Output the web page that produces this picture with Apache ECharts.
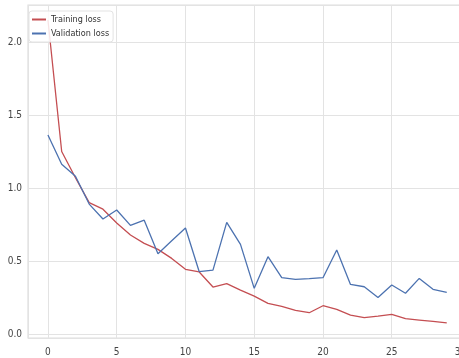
<!DOCTYPE html>
<html>
<head>
<meta charset="utf-8">
<script src="https://cdn.jsdelivr.net/npm/echarts@6/dist/echarts.min.js"></script>
<style>
html,body{margin:0;padding:0;background:#fff;}
#chart{width:459px;height:358px;}
</style>
</head>
<body>
<div id="chart"></div>
<script>
var epochs = [0,1,2,3,4,5,6,7,8,9,10,11,12,13,14,15,16,17,18,19,20,21,22,23,24,25,26,27,28,29];
var trainingLoss = [2.15,1.25,1.07,0.90,0.855,0.76,0.678,0.621,0.58,0.518,0.443,0.425,0.322,0.345,0.301,0.26,0.21,0.19,0.162,0.146,0.194,0.169,0.13,0.112,0.123,0.135,0.105,0.096,0.087,0.077];
var validationLoss = [1.363,1.162,1.08,0.89,0.788,0.849,0.744,0.78,0.55,0.639,0.726,0.427,0.438,0.765,0.614,0.313,0.53,0.386,0.375,0.379,0.386,0.575,0.34,0.324,0.251,0.336,0.279,0.381,0.306,0.286];
var seriesNames = ['Training loss','Validation loss'];

var FONT = "'Liberation Sans Narrow','DejaVu Sans Condensed','Liberation Sans',sans-serif";
function pairs(vals){ return epochs.map(function(e,i){ return [e, vals[i]]; }); }
function fmt(step, digits){
  return function(v){
    var r = Math.round(v/step)*step;
    if (Math.abs(r - v) > 1e-6) return '';
    return digits ? r.toFixed(digits) : String(r);
  };
}

var chart = echarts.init(document.getElementById('chart'), null, {renderer:'canvas'});
chart.setOption({
  animation:false,
  backgroundColor:'#ffffff',
  grid:{left:28, top:5, width:438.7, height:333, containLabel:false, outerBoundsMode:'none',
        show:true, borderColor:'#dedede', borderWidth:1.2, backgroundColor:'#ffffff'},
  legend:{
    data:seriesNames, orient:'vertical', left:29, top:11, itemGap:5,
    itemWidth:14, itemHeight:2, icon:'rect',
    backgroundColor:'rgba(255,255,255,0.85)', borderColor:'#e3e3e3', borderWidth:1, borderRadius:3,
    padding:[4,4,4,3],
    textStyle:{fontFamily:FONT, fontSize:9, color:'#333'}
  },
  xAxis:{
    type:'value', min:-1.45, max:30.45, minInterval:5, maxInterval:5,
    axisLine:{show:false}, axisTick:{show:false},
    splitLine:{show:true, lineStyle:{color:'#e3e3e3', width:1}},
    axisLabel:{margin:9, fontFamily:FONT, fontSize:10, color:'#444', formatter:fmt(5,0)}
  },
  yAxis:{
    type:'value', min:-0.027, max:2.253, minInterval:0.5, maxInterval:0.5,
    axisLine:{show:false}, axisTick:{show:false},
    splitLine:{show:true, lineStyle:{color:'#e3e3e3', width:1}},
    axisLabel:{margin:6, fontFamily:FONT, fontSize:10, color:'#444', formatter:fmt(0.5,1)}
  },
  series:[
    {name:seriesNames[0], type:'line', data:pairs(trainingLoss), showSymbol:false,
     lineStyle:{color:'#c44e52', width:1.3}, itemStyle:{color:'#c44e52'}},
    {name:seriesNames[1], type:'line', data:pairs(validationLoss), showSymbol:false,
     lineStyle:{color:'#4c72b0', width:1.3}, itemStyle:{color:'#4c72b0'}}
  ]
});
</script>
</body>
</html>
